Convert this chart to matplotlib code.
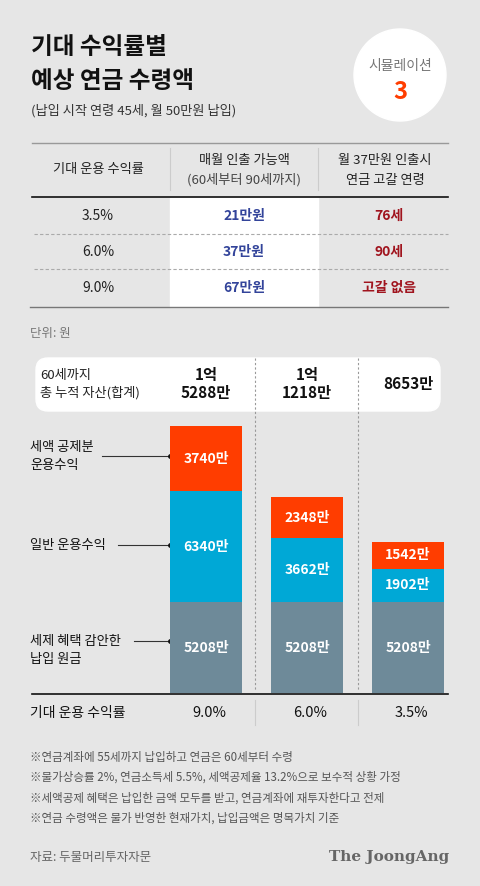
import matplotlib.pyplot as plt
from matplotlib.patches import FancyBboxPatch, Rectangle, Circle

plt.rcParams['font.family'] = ['Noto Sans CJK KR', 'DejaVu Sans']

# data
rates = ['9.0%', '6.0%', '3.5%']
principal = [5208, 5208, 5208]
general = [6340, 3662, 1902]
tax_credit = [3740, 2348, 1542]
totals = ['1억\n5288만', '1억\n1218만', '8653만']

table_rates = ['3.5%', '6.0%', '9.0%']
monthly = ['21만원', '37만원', '67만원']
depletion = ['76세', '90세', '고갈 없음']

notes = ['※연금계좌에 55세까지 납입하고 연금은 60세부터 수령',
         '※물가상승률 2%, 연금소득세 5.5%, 세액공제율 13.2%으로 보수적 상황 가정',
         '※세액공제 혜택은 납입한 금액 모두를 받고, 연금계좌에 재투자한다고 전제',
         '※연금 수령액은 물가 반영한 현재가치, 납입금액은 명목가치 기준']

BG = '#e6e6e6'
ORANGE = '#ff3d00'
BLUE = '#00a8d6'
GRAY = '#6e8a99'
NAVY = '#33449a'
RED = '#a0141e'

W, H = 480, 886
fig = plt.figure(figsize=(W / 100, H / 100), dpi=100, facecolor=BG)
ax = fig.add_axes([0, 0, 1, 1])
ax.set_xlim(0, W)
ax.set_ylim(H, 0)
ax.axis('off')

# title
ax.text(31, 47, '기대 수익률별', fontsize=17, fontweight='bold', va='center', color='#111')
ax.text(31, 81, '예상 연금 수령액', fontsize=17, fontweight='bold', va='center', color='#111')
ax.text(31, 111, '(납입 시작 연령 45세, 월 50만원 납입)', fontsize=9.5, va='center', color='#333')
ax.add_patch(Circle((400, 75), 46, color='white'))
ax.text(400, 66, '시뮬레이션', fontsize=10, ha='center', va='center', color='#777')
ax.text(400, 92, '3', fontsize=17, fontweight='bold', ha='center', va='center', color=ORANGE)

# table
ax.add_patch(Rectangle((170, 198), 148, 109, color='white', zorder=0))
ax.plot([32, 448], [143, 143], color='#999', lw=1)
ax.plot([32, 448], [197, 197], color='#111', lw=1.2)
ax.plot([30, 448], [307, 307], color='#777', lw=1)
for y in (234, 269):
    ax.plot([34, 448], [y, y], color='#aaa', lw=0.8, ls=(0, (3, 2)))
for x in (170, 318):
    ax.plot([x, x], [148, 190], color='#ccc', lw=0.8)
ax.text(98, 169, '기대 운용 수익률', fontsize=9.5, ha='center', va='center', color='#222')
ax.text(244, 160, '매월 인출 가능액', fontsize=9.5, ha='center', va='center', color='#222')
ax.text(244, 180, '(60세부터 90세까지)', fontsize=9.5, ha='center', va='center', color='#444')
ax.text(385, 160, '월 37만원 인출시', fontsize=9.5, ha='center', va='center', color='#222')
ax.text(385, 180, '연금 고갈 연령', fontsize=9.5, ha='center', va='center', color='#222')
for i, (r, m, d) in enumerate(zip(table_rates, monthly, depletion)):
    y = 216 + i * 36
    ax.text(98, y, r, fontsize=10, ha='center', va='center', color='#222')
    ax.text(244, y, m, fontsize=10, fontweight='bold', ha='center', va='center', color=NAVY)
    ax.text(389, y, d, fontsize=10, fontweight='bold', ha='center', va='center', color=RED)

ax.text(30, 333, '단위: 원', fontsize=9, va='center', color='#777')

# totals box
ax.add_patch(FancyBboxPatch((36, 358), 404, 53, boxstyle='round,pad=0,rounding_size=12',
                            color='white', zorder=1))
ax.text(40, 375, '60세까지', fontsize=9.5, va='center', color='#222', zorder=3)
ax.text(40, 393, '총 누적 자산(합계)', fontsize=9.5, va='center', color='#222', zorder=3)
centers = [206, 307, 408]
for cx, t in zip(centers, totals):
    ax.text(cx, 384, t, fontsize=11, fontweight='bold', ha='center', va='center',
            color='#111', linespacing=1.1, zorder=3)
for x in (255, 358):
    ax.plot([x, x], [358, 690], color='#999', lw=0.8, ls=(0, (2, 2)), zorder=2)
    ax.plot([x, x], [700, 725], color='#ccc', lw=0.8)

# bars
bax = fig.add_axes([155.5 / W, (H - 693) / H, 303 / W, 267 / H])
bax.set_xlim(-0.5, 2.5)
bax.set_ylim(0, 15288)
bax.axis('off')
x = range(len(rates))
b1 = bax.bar(x, principal, width=0.713, color=GRAY)
b2 = bax.bar(x, general, width=0.713, bottom=principal, color=BLUE)
bottom3 = [p + g for p, g in zip(principal, general)]
b3 = bax.bar(x, tax_credit, width=0.713, bottom=bottom3, color=ORANGE)
for bars, vals in ((b1, principal), (b2, general), (b3, tax_credit)):
    for rect, v in zip(bars, vals):
        bax.text(rect.get_x() + rect.get_width() / 2, rect.get_y() + rect.get_height() / 2,
                 f'{v}만', fontsize=10, fontweight='bold', ha='center', va='center', color='white')

# left labels with leader lines
ax.text(30, 456, '세액 공제분\n운용수익', fontsize=9.5, va='center', color='#111', linespacing=1.5)
ax.plot([102, 170], [456, 456], color='#333', lw=0.8)
ax.plot(170, 456, 'o', color='#111', ms=2.5)
ax.text(30, 545, '일반 운용수익', fontsize=9.5, va='center', color='#111')
ax.plot([118, 170], [545, 545], color='#333', lw=0.8)
ax.plot(170, 545, 'o', color='#111', ms=2.5)
ax.text(30, 651, '세제 혜택 감안한\n납입 원금', fontsize=9.5, va='center', color='#111', linespacing=1.5)
ax.plot([134, 170], [641, 641], color='#333', lw=0.8)
ax.plot(170, 641, 'o', color='#111', ms=2.5)

ax.plot([32, 448], [694, 694], color='#111', lw=1.2)
ax.text(30, 713, '기대 운용 수익률', fontsize=10, va='center', color='#111')
for cx, r in zip(centers, rates):
    ax.text(cx + 3, 713, r, fontsize=10.5, ha='center', va='center', color='#111')

for i, n in enumerate(notes):
    ax.text(30, 757 + i * 20.5, n, fontsize=8.3, va='center', color='#555')

ax.text(30, 857, '자료: 두물머리투자자문', fontsize=9, va='center', color='#666')
ax.text(449, 857, 'The JoongAng', fontsize=11, fontweight='bold', family='DejaVu Serif',
        ha='right', va='center', color='#666')

fig.savefig('out.png', dpi=100, facecolor=BG)
